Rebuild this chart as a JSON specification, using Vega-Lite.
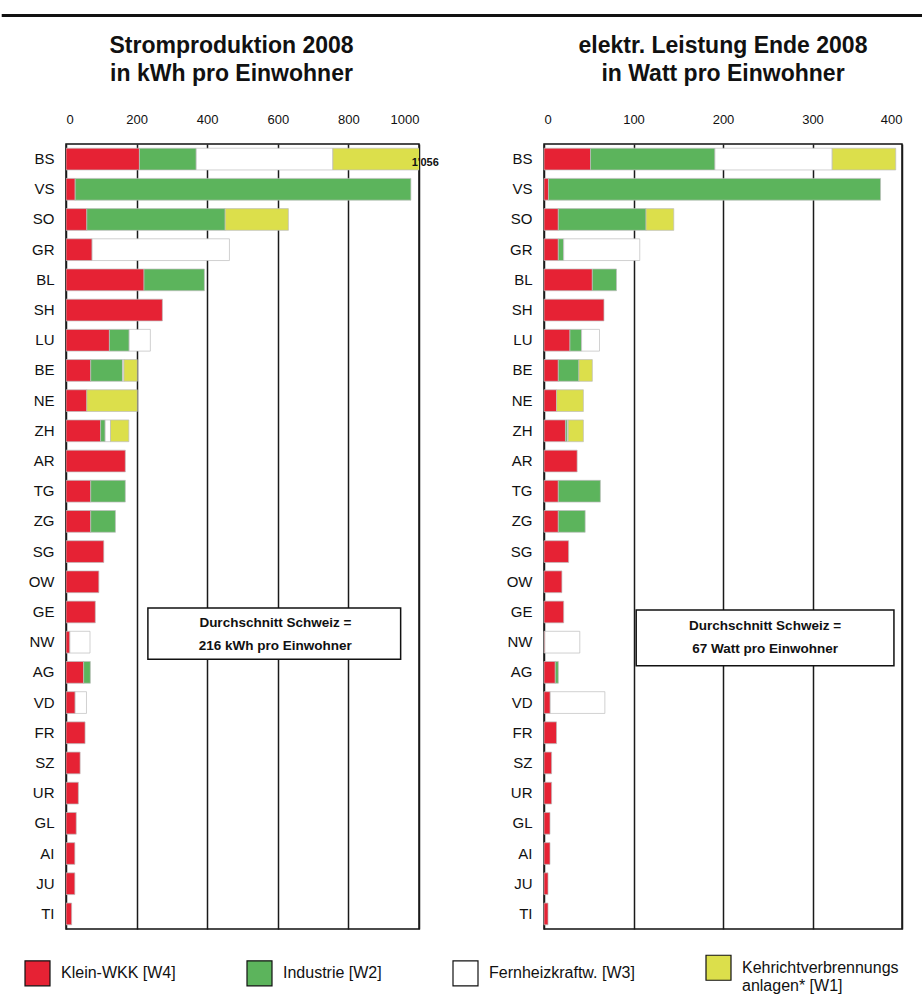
{
  "$schema": "https://vega.github.io/schema/vega-lite/v6.json",
  "background": "white",
  "padding": {"left": 0, "top": 14, "right": 0, "bottom": 5},
  "spacing": 17,
  "config": {
    "font": "Liberation Sans",
    "view": {"stroke": "#111", "strokeWidth": 1.5},
    "axisX": {"orient": "top", "grid": true, "gridColor": "#1a1a1a", "gridWidth": 1.5, "domain": false, "ticks": false, "labelFontSize": 13, "labelColor": "#111", "labelPadding": 18, "title": null, "format": "d"},
    "axisY": {"grid": false, "domain": false, "ticks": false, "labelFontSize": 15, "labelColor": "#111", "labelPadding": 12, "minExtent": 64, "title": null},
    "title": {"fontSize": 23, "fontWeight": "bold", "color": "#111", "lineHeight": 28, "offset": 27, "anchor": "middle", "frame": "group"},
    "legend": {"orient": "none", "legendX": -42, "legendY": 939, "direction": "horizontal", "title": null, "symbolType": "square", "symbolSize": 625, "symbolStrokeColor": "#111", "symbolStrokeWidth": 1.2, "labelFont": "Liberation Sans", "labelFontSize": 16, "labelColor": "#111", "labelOffset": 10, "columnPadding": 68}
  },
  "datasets": {
    "p": [
      {"k": "BS", "c": "W4", "v": 208, "i": 1}, {"k": "BS", "c": "W2", "v": 161, "i": 2}, {"k": "BS", "c": "W3", "v": 387, "i": 3}, {"k": "BS", "c": "W1", "v": 300, "i": 4},
      {"k": "VS", "c": "W4", "v": 26, "i": 1}, {"k": "VS", "c": "W2", "v": 951, "i": 2},
      {"k": "SO", "c": "W4", "v": 59, "i": 1}, {"k": "SO", "c": "W2", "v": 392, "i": 2}, {"k": "SO", "c": "W1", "v": 179, "i": 4},
      {"k": "GR", "c": "W4", "v": 74, "i": 1}, {"k": "GR", "c": "W3", "v": 389, "i": 3},
      {"k": "BL", "c": "W4", "v": 221, "i": 1}, {"k": "BL", "c": "W2", "v": 171, "i": 2},
      {"k": "SH", "c": "W4", "v": 273, "i": 1},
      {"k": "LU", "c": "W4", "v": 123, "i": 1}, {"k": "LU", "c": "W2", "v": 56, "i": 2}, {"k": "LU", "c": "W3", "v": 60, "i": 3},
      {"k": "BE", "c": "W4", "v": 70, "i": 1}, {"k": "BE", "c": "W2", "v": 90, "i": 2}, {"k": "BE", "c": "W3", "v": 4, "i": 3}, {"k": "BE", "c": "W1", "v": 38, "i": 4},
      {"k": "NE", "c": "W4", "v": 59, "i": 1}, {"k": "NE", "c": "W1", "v": 143, "i": 4},
      {"k": "ZH", "c": "W4", "v": 98, "i": 1}, {"k": "ZH", "c": "W2", "v": 13, "i": 2}, {"k": "ZH", "c": "W3", "v": 15, "i": 3}, {"k": "ZH", "c": "W1", "v": 52, "i": 4},
      {"k": "AR", "c": "W4", "v": 168, "i": 1},
      {"k": "TG", "c": "W4", "v": 70, "i": 1}, {"k": "TG", "c": "W2", "v": 98, "i": 2},
      {"k": "ZG", "c": "W4", "v": 70, "i": 1}, {"k": "ZG", "c": "W2", "v": 70, "i": 2},
      {"k": "SG", "c": "W4", "v": 107, "i": 1},
      {"k": "OW", "c": "W4", "v": 93, "i": 1},
      {"k": "GE", "c": "W4", "v": 83, "i": 1},
      {"k": "NW", "c": "W4", "v": 11, "i": 1}, {"k": "NW", "c": "W3", "v": 57, "i": 3},
      {"k": "AG", "c": "W4", "v": 50, "i": 1}, {"k": "AG", "c": "W2", "v": 19, "i": 2},
      {"k": "VD", "c": "W4", "v": 26, "i": 1}, {"k": "VD", "c": "W3", "v": 32, "i": 3},
      {"k": "FR", "c": "W4", "v": 54, "i": 1},
      {"k": "SZ", "c": "W4", "v": 40, "i": 1},
      {"k": "UR", "c": "W4", "v": 35, "i": 1},
      {"k": "GL", "c": "W4", "v": 29, "i": 1},
      {"k": "AI", "c": "W4", "v": 25, "i": 1},
      {"k": "JU", "c": "W4", "v": 25, "i": 1},
      {"k": "TI", "c": "W4", "v": 16, "i": 1}
    ],
    "w": [
      {"k": "BS", "c": "W4", "v": 52, "i": 1}, {"k": "BS", "c": "W2", "v": 139, "i": 2}, {"k": "BS", "c": "W3", "v": 131, "i": 3}, {"k": "BS", "c": "W1", "v": 71, "i": 4},
      {"k": "VS", "c": "W4", "v": 5, "i": 1}, {"k": "VS", "c": "W2", "v": 371, "i": 2},
      {"k": "SO", "c": "W4", "v": 16, "i": 1}, {"k": "SO", "c": "W2", "v": 98, "i": 2}, {"k": "SO", "c": "W1", "v": 31, "i": 4},
      {"k": "GR", "c": "W4", "v": 16, "i": 1}, {"k": "GR", "c": "W2", "v": 6, "i": 2}, {"k": "GR", "c": "W3", "v": 85, "i": 3},
      {"k": "BL", "c": "W4", "v": 54, "i": 1}, {"k": "BL", "c": "W2", "v": 27, "i": 2},
      {"k": "SH", "c": "W4", "v": 67, "i": 1},
      {"k": "LU", "c": "W4", "v": 29, "i": 1}, {"k": "LU", "c": "W2", "v": 13, "i": 2}, {"k": "LU", "c": "W3", "v": 20, "i": 3},
      {"k": "BE", "c": "W4", "v": 16, "i": 1}, {"k": "BE", "c": "W2", "v": 23, "i": 2}, {"k": "BE", "c": "W1", "v": 15, "i": 4},
      {"k": "NE", "c": "W4", "v": 14, "i": 1}, {"k": "NE", "c": "W1", "v": 30, "i": 4},
      {"k": "ZH", "c": "W4", "v": 24, "i": 1}, {"k": "ZH", "c": "W2", "v": 2, "i": 2}, {"k": "ZH", "c": "W3", "v": 1, "i": 3}, {"k": "ZH", "c": "W1", "v": 17, "i": 4},
      {"k": "AR", "c": "W4", "v": 37, "i": 1},
      {"k": "TG", "c": "W4", "v": 16, "i": 1}, {"k": "TG", "c": "W2", "v": 47, "i": 2},
      {"k": "ZG", "c": "W4", "v": 16, "i": 1}, {"k": "ZG", "c": "W2", "v": 30, "i": 2},
      {"k": "SG", "c": "W4", "v": 27.5, "i": 1},
      {"k": "OW", "c": "W4", "v": 20, "i": 1},
      {"k": "GE", "c": "W4", "v": 22, "i": 1},
      {"k": "NW", "c": "W4", "v": 1, "i": 1}, {"k": "NW", "c": "W3", "v": 39, "i": 3},
      {"k": "AG", "c": "W4", "v": 12.6, "i": 1}, {"k": "AG", "c": "W2", "v": 3.4, "i": 2},
      {"k": "VD", "c": "W4", "v": 7, "i": 1}, {"k": "VD", "c": "W3", "v": 61, "i": 3},
      {"k": "FR", "c": "W4", "v": 14, "i": 1},
      {"k": "SZ", "c": "W4", "v": 8.5, "i": 1},
      {"k": "UR", "c": "W4", "v": 8.5, "i": 1},
      {"k": "GL", "c": "W4", "v": 6.7, "i": 1},
      {"k": "AI", "c": "W4", "v": 6.7, "i": 1},
      {"k": "JU", "c": "W4", "v": 4.5, "i": 1},
      {"k": "TI", "c": "W4", "v": 4.5, "i": 1}
    ]
  },
  "vconcat": [
    {
      "width": 857, "height": 1,
      "data": {"values": [{}]},
      "view": {"stroke": null},
      "mark": {"type": "rule", "strokeWidth": 3, "color": "#111"},
      "encoding": {
        "x": {"datum": -0.075, "type": "quantitative", "scale": {"domain": [0, 1]}, "axis": null},
        "x2": {"datum": 1}
      }
    },
    {
      "spacing": 39,
      "hconcat": [
        {
          "width": 353, "height": 785,
          "title": {"text": ["Stromproduktion 2008", "in kWh pro Einwohner"], "dx": -11},
          "layer": [
            {
              "data": {"name": "p"},
              "mark": {"type": "bar", "clip": true, "stroke": "#bdbdbd", "strokeWidth": 0.7},
              "encoding": {
                "y": {"field": "k", "type": "nominal", "scale": {"domain": ["BS","VS","SO","GR","BL","SH","LU","BE","NE","ZH","AR","TG","ZG","SG","OW","GE","NW","AG","VD","FR","SZ","UR","GL","AI","JU","TI"], "paddingInner": 0.28, "paddingOuter": 0.14}},
                "x": {"field": "v", "type": "quantitative", "stack": "zero", "scale": {"domain": [0, 1000], "nice": false}, "axis": {"values": [0, 200, 400, 600, 800, 1000]}},
                "color": {"field": "c", "type": "nominal", "scale": {"domain": ["W4", "W2", "W3", "W1"], "range": ["#e62234", "#5cb45c", "#ffffff", "#dcdf4b"]}, "legend": {"labelExpr": "{'W4': 'Klein-WKK [W4]', 'W2': 'Industrie [W2]', 'W3': 'Fernheizkraftw. [W3]', 'W1': ['Kehrichtverbrennungs', 'anlagen* [W1]']}[datum.value]"}},
                "order": {"field": "i", "type": "quantitative"}
              }
            },
            {
              "data": {"values": [{}]},
              "mark": {"type": "rect", "fill": "white", "stroke": "#111", "strokeWidth": 1.5, "yOffset": -4, "y2Offset": 17},
              "encoding": {
                "x": {"datum": 232, "type": "quantitative"},
                "x2": {"datum": 948},
                "y": {"datum": "GE", "type": "nominal"},
                "y2": {"datum": "NW"}
              }
            },
            {
              "data": {"values": [{}]},
              "mark": {"type": "text", "fontSize": 13.5, "fontWeight": "bold", "color": "#111", "lineHeight": 23, "dy": -19.5},
              "encoding": {
                "x": {"datum": 593, "type": "quantitative"},
                "y": {"datum": "NW", "type": "nominal"},
                "text": {"value": ["Durchschnitt Schweiz =", "216 kWh pro Einwohner"]}
              }
            },
            {
              "data": {"values": [{}]},
              "mark": {"type": "text", "fontSize": 11, "fontWeight": "bold", "color": "#111", "align": "right", "dy": 4},
              "encoding": {
                "x": {"datum": 1056, "type": "quantitative"},
                "y": {"datum": "BS", "type": "nominal"},
                "text": {"value": "1'056"}
              }
            }
          ]
        },
        {
          "width": 358, "height": 785,
          "title": {"text": ["elektr. Leistung Ende 2008", "in Watt pro Einwohner"]},
          "layer": [
            {
              "data": {"name": "w"},
              "mark": {"type": "bar", "stroke": "#bdbdbd", "strokeWidth": 0.7},
              "encoding": {
                "y": {"field": "k", "type": "nominal", "scale": {"domain": ["BS","VS","SO","GR","BL","SH","LU","BE","NE","ZH","AR","TG","ZG","SG","OW","GE","NW","AG","VD","FR","SZ","UR","GL","AI","JU","TI"], "paddingInner": 0.28, "paddingOuter": 0.14}},
                "x": {"field": "v", "type": "quantitative", "stack": "zero", "scale": {"domain": [0, 400], "nice": false}, "axis": {"values": [0, 100, 200, 300, 400]}},
                "color": {"field": "c", "type": "nominal"},
                "order": {"field": "i", "type": "quantitative"}
              }
            },
            {
              "data": {"values": [{}]},
              "mark": {"type": "rect", "fill": "white", "stroke": "#111", "strokeWidth": 1.5, "yOffset": -2, "y2Offset": 23.5},
              "encoding": {
                "x": {"datum": 103, "type": "quantitative"},
                "x2": {"datum": 391},
                "y": {"datum": "GE", "type": "nominal"},
                "y2": {"datum": "NW"}
              }
            },
            {
              "data": {"values": [{}]},
              "mark": {"type": "text", "fontSize": 13.5, "fontWeight": "bold", "color": "#111", "lineHeight": 23, "dy": -16.3},
              "encoding": {
                "x": {"datum": 247, "type": "quantitative"},
                "y": {"datum": "NW", "type": "nominal"},
                "text": {"value": ["Durchschnitt Schweiz =", "67 Watt pro Einwohner"]}
              }
            }
          ]
        }
      ]
    }
  ]
}
